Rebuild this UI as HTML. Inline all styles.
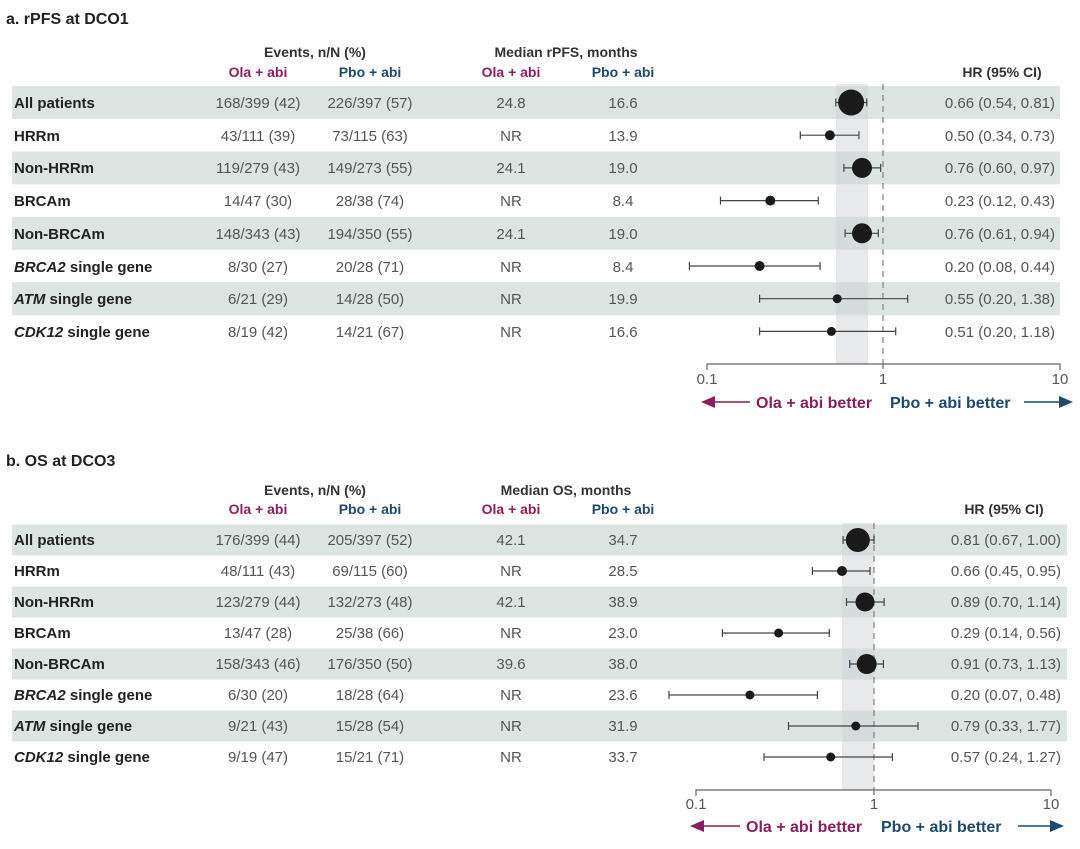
<!DOCTYPE html>
<html><head><meta charset="utf-8"><style>
body{margin:0;background:#fff;}
svg{display:block;font-family:"Liberation Sans",Arial,sans-serif;}
.t{font-size:15px;fill:#555;}
.b{font-weight:bold;fill:#222;font-size:15px;}
.h{font-weight:bold;fill:#333;font-size:14px;}
.m{font-weight:bold;fill:#8c1d5e;font-size:14px;}
.n{font-weight:bold;fill:#1d4a6e;font-size:14px;}
.ar{font-size:16px;}
</style></head><body>
<svg width="1080" height="849" viewBox="0 0 1080 849">
<!-- Panel a -->
<text x="6" y="24" class="b" style="font-size:16px">a. rPFS at DCO1</text>
<text x="315" y="57" class="h" text-anchor="middle">Events, n/N (%)</text>
<text x="566" y="57" class="h" text-anchor="middle">Median rPFS, months</text>
<g text-anchor="middle"><text x="258" y="77" class="m">Ola + abi</text><text x="370" y="77" class="n">Pbo + abi</text><text x="511" y="77" class="m">Ola + abi</text><text x="623" y="77" class="n">Pbo + abi</text></g>
<text x="1002" y="77" class="h" text-anchor="middle">HR (95% CI)</text>
<g fill="#dde5e3">
<rect x="12" y="86" width="1048" height="33"/><rect x="12" y="151.4" width="1048" height="33"/><rect x="12" y="216.8" width="1048" height="33"/><rect x="12" y="282.2" width="1048" height="33"/>
</g>
<rect x="836" y="84" width="32" height="280" fill="#cfd3d8" opacity="0.5"/>
<line x1="883" y1="84" x2="883" y2="364" stroke="#888" stroke-width="1.3" stroke-dasharray="6,5"/>
<g class="t">
<text x="14" y="108" class="b">All patients</text><text x="258" y="108" text-anchor="middle">168/399 (42)</text><text x="370" y="108" text-anchor="middle">226/397 (57)</text><text x="511" y="108" text-anchor="middle">24.8</text><text x="623" y="108" text-anchor="middle">16.6</text><text x="1055" y="108" text-anchor="end">0.66 (0.54, 0.81)</text>
<text x="14" y="141" class="b">HRRm</text><text x="258" y="141" text-anchor="middle">43/111 (39)</text><text x="370" y="141" text-anchor="middle">73/115 (63)</text><text x="511" y="141" text-anchor="middle">NR</text><text x="623" y="141" text-anchor="middle">13.9</text><text x="1055" y="141" text-anchor="end">0.50 (0.34, 0.73)</text>
<text x="14" y="173" class="b">Non-HRRm</text><text x="258" y="173" text-anchor="middle">119/279 (43)</text><text x="370" y="173" text-anchor="middle">149/273 (55)</text><text x="511" y="173" text-anchor="middle">24.1</text><text x="623" y="173" text-anchor="middle">19.0</text><text x="1055" y="173" text-anchor="end">0.76 (0.60, 0.97)</text>
<text x="14" y="206" class="b">BRCAm</text><text x="258" y="206" text-anchor="middle">14/47 (30)</text><text x="370" y="206" text-anchor="middle">28/38 (74)</text><text x="511" y="206" text-anchor="middle">NR</text><text x="623" y="206" text-anchor="middle">8.4</text><text x="1055" y="206" text-anchor="end">0.23 (0.12, 0.43)</text>
<text x="14" y="239" class="b">Non-BRCAm</text><text x="258" y="239" text-anchor="middle">148/343 (43)</text><text x="370" y="239" text-anchor="middle">194/350 (55)</text><text x="511" y="239" text-anchor="middle">24.1</text><text x="623" y="239" text-anchor="middle">19.0</text><text x="1055" y="239" text-anchor="end">0.76 (0.61, 0.94)</text>
<text x="14" y="272" class="b"><tspan font-style="italic">BRCA2</tspan> single gene</text><text x="258" y="272" text-anchor="middle">8/30 (27)</text><text x="370" y="272" text-anchor="middle">20/28 (71)</text><text x="511" y="272" text-anchor="middle">NR</text><text x="623" y="272" text-anchor="middle">8.4</text><text x="1055" y="272" text-anchor="end">0.20 (0.08, 0.44)</text>
<text x="14" y="304" class="b"><tspan font-style="italic">ATM</tspan> single gene</text><text x="258" y="304" text-anchor="middle">6/21 (29)</text><text x="370" y="304" text-anchor="middle">14/28 (50)</text><text x="511" y="304" text-anchor="middle">NR</text><text x="623" y="304" text-anchor="middle">19.9</text><text x="1055" y="304" text-anchor="end">0.55 (0.20, 1.38)</text>
<text x="14" y="337" class="b"><tspan font-style="italic">CDK12</tspan> single gene</text><text x="258" y="337" text-anchor="middle">8/19 (42)</text><text x="370" y="337" text-anchor="middle">14/21 (67)</text><text x="511" y="337" text-anchor="middle">NR</text><text x="623" y="337" text-anchor="middle">16.6</text><text x="1055" y="337" text-anchor="end">0.51 (0.20, 1.18)</text>
</g>
<g stroke="#444" stroke-width="1.2" fill="none">
<path d="M835.8 102.5H866.8M835.8 98.5v8M866.8 98.5v8"/>
<path d="M800.3 135.2H858.9M800.3 131.2v8M858.9 131.2v8"/>
<path d="M843.9 167.9H880.7M843.9 163.9v8M880.7 163.9v8"/>
<path d="M720.5 200.6H818.3M720.5 196.6v8M818.3 196.6v8"/>
<path d="M845.1 233.3H878.3M845.1 229.3v8M878.3 229.3v8"/>
<path d="M689.4 266H820.1M689.4 262v8M820.1 262v8"/>
<path d="M759.6 298.7H907.7M759.6 294.7v8M907.7 294.7v8"/>
<path d="M759.6 331.4H895.7M759.6 327.4v8M895.7 327.4v8"/>
</g>
<g fill="#1a1a1a">
<circle cx="851.1" cy="102.5" r="13"/><circle cx="829.9" cy="135.2" r="5"/><circle cx="862" cy="167.9" r="10"/><circle cx="770.3" cy="200.6" r="5"/><circle cx="862" cy="233.3" r="10"/><circle cx="759.6" cy="266" r="5"/><circle cx="837.2" cy="298.7" r="4.5"/><circle cx="831.4" cy="331.4" r="4.5"/>
</g>
<path d="M707 370V364H1060V370M883 364v5" stroke="#666" stroke-width="1.2" fill="none"/>
<g class="t" text-anchor="middle"><text x="707" y="384">0.1</text><text x="883" y="384">1</text><text x="1060" y="384">10</text></g>
<line x1="712" y1="402" x2="750" y2="402" stroke="#8c1d5e" stroke-width="1.6"/><path d="M701 402l14-6v12z" fill="#8c1d5e"/>
<text x="756" y="408" class="m ar">Ola + abi better</text>
<text x="890" y="408" class="n ar">Pbo + abi better</text>
<line x1="1024" y1="402" x2="1064" y2="402" stroke="#1d4a6e" stroke-width="1.6"/><path d="M1073 402l-14-6v12z" fill="#1d4a6e"/>

<!-- Panel b -->
<text x="6" y="466" class="b" style="font-size:16px">b. OS at DCO3</text>
<text x="315" y="495" class="h" text-anchor="middle">Events, n/N (%)</text>
<text x="566" y="495" class="h" text-anchor="middle">Median OS, months</text>
<g text-anchor="middle"><text x="258" y="514" class="m">Ola + abi</text><text x="370" y="514" class="n">Pbo + abi</text><text x="511" y="514" class="m">Ola + abi</text><text x="623" y="514" class="n">Pbo + abi</text></g>
<text x="1004" y="514" class="h" text-anchor="middle">HR (95% CI)</text>
<g fill="#dde5e3">
<rect x="12" y="524.5" width="1055" height="31"/><rect x="12" y="586.5" width="1055" height="31"/><rect x="12" y="648.5" width="1055" height="31"/><rect x="12" y="710.5" width="1055" height="31"/>
</g>
<rect x="842" y="523" width="32" height="267" fill="#cfd3d8" opacity="0.5"/>
<line x1="874" y1="523" x2="874" y2="790" stroke="#888" stroke-width="1.3" stroke-dasharray="6,5"/>
<g class="t">
<text x="14" y="545" class="b">All patients</text><text x="258" y="545" text-anchor="middle">176/399 (44)</text><text x="370" y="545" text-anchor="middle">205/397 (52)</text><text x="511" y="545" text-anchor="middle">42.1</text><text x="623" y="545" text-anchor="middle">34.7</text><text x="1061" y="545" text-anchor="end">0.81 (0.67, 1.00)</text>
<text x="14" y="576" class="b">HRRm</text><text x="258" y="576" text-anchor="middle">48/111 (43)</text><text x="370" y="576" text-anchor="middle">69/115 (60)</text><text x="511" y="576" text-anchor="middle">NR</text><text x="623" y="576" text-anchor="middle">28.5</text><text x="1061" y="576" text-anchor="end">0.66 (0.45, 0.95)</text>
<text x="14" y="607" class="b">Non-HRRm</text><text x="258" y="607" text-anchor="middle">123/279 (44)</text><text x="370" y="607" text-anchor="middle">132/273 (48)</text><text x="511" y="607" text-anchor="middle">42.1</text><text x="623" y="607" text-anchor="middle">38.9</text><text x="1061" y="607" text-anchor="end">0.89 (0.70, 1.14)</text>
<text x="14" y="638" class="b">BRCAm</text><text x="258" y="638" text-anchor="middle">13/47 (28)</text><text x="370" y="638" text-anchor="middle">25/38 (66)</text><text x="511" y="638" text-anchor="middle">NR</text><text x="623" y="638" text-anchor="middle">23.0</text><text x="1061" y="638" text-anchor="end">0.29 (0.14, 0.56)</text>
<text x="14" y="669" class="b">Non-BRCAm</text><text x="258" y="669" text-anchor="middle">158/343 (46)</text><text x="370" y="669" text-anchor="middle">176/350 (50)</text><text x="511" y="669" text-anchor="middle">39.6</text><text x="623" y="669" text-anchor="middle">38.0</text><text x="1061" y="669" text-anchor="end">0.91 (0.73, 1.13)</text>
<text x="14" y="700" class="b"><tspan font-style="italic">BRCA2</tspan> single gene</text><text x="258" y="700" text-anchor="middle">6/30 (20)</text><text x="370" y="700" text-anchor="middle">18/28 (64)</text><text x="511" y="700" text-anchor="middle">NR</text><text x="623" y="700" text-anchor="middle">23.6</text><text x="1061" y="700" text-anchor="end">0.20 (0.07, 0.48)</text>
<text x="14" y="731" class="b"><tspan font-style="italic">ATM</tspan> single gene</text><text x="258" y="731" text-anchor="middle">9/21 (43)</text><text x="370" y="731" text-anchor="middle">15/28 (54)</text><text x="511" y="731" text-anchor="middle">NR</text><text x="623" y="731" text-anchor="middle">31.9</text><text x="1061" y="731" text-anchor="end">0.79 (0.33, 1.77)</text>
<text x="14" y="762" class="b"><tspan font-style="italic">CDK12</tspan> single gene</text><text x="258" y="762" text-anchor="middle">9/19 (47)</text><text x="370" y="762" text-anchor="middle">15/21 (71)</text><text x="511" y="762" text-anchor="middle">NR</text><text x="623" y="762" text-anchor="middle">33.7</text><text x="1061" y="762" text-anchor="end">0.57 (0.24, 1.27)</text>
</g>
<g stroke="#444" stroke-width="1.2" fill="none">
<path d="M843.1 540H874M843.1 536v8M874 536v8"/>
<path d="M812.4 571H870M812.4 567v8M870 567v8"/>
<path d="M846.5 602H884.1M846.5 598v8M884.1 598v8"/>
<path d="M722.4 633H829.3M722.4 629v8M829.3 629v8"/>
<path d="M849.7 664H883.4M849.7 660v8M883.4 660v8"/>
<path d="M669 695H817.4M669 691v8M817.4 691v8"/>
<path d="M788.5 726H918M788.5 722v8M918 722v8"/>
<path d="M764 757H892.4M764 753v8M892.4 753v8"/>
</g>
<g fill="#1a1a1a">
<circle cx="857.8" cy="540" r="12"/><circle cx="842" cy="571" r="5"/><circle cx="865" cy="602" r="9.5"/><circle cx="778.6" cy="633" r="4.5"/><circle cx="866.7" cy="664" r="10"/><circle cx="749.9" cy="695" r="4.5"/><circle cx="855.8" cy="726" r="4.5"/><circle cx="830.7" cy="757" r="4.5"/>
</g>
<path d="M696 796V790H1051V796M874 790v5" stroke="#666" stroke-width="1.2" fill="none"/>
<g class="t" text-anchor="middle"><text x="696" y="809">0.1</text><text x="874" y="809">1</text><text x="1051" y="809">10</text></g>
<line x1="700" y1="826" x2="740" y2="826" stroke="#8c1d5e" stroke-width="1.6"/><path d="M690 826l14-6v12z" fill="#8c1d5e"/>
<text x="746" y="832" class="m ar">Ola + abi better</text>
<text x="881" y="832" class="n ar">Pbo + abi better</text>
<line x1="1018" y1="826" x2="1054" y2="826" stroke="#1d4a6e" stroke-width="1.6"/><path d="M1064 826l-14-6v12z" fill="#1d4a6e"/>
</svg>
</body></html>
